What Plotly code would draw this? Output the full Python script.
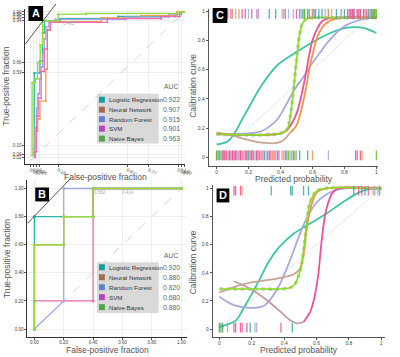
import plotly.graph_objects as go

W, H = 400, 357
def px(x): return x / W
def py(y): return 1 - y / H

models = ["Logistic Regression", "Neural Network", "Random Forest", "SVM", "Naive Bayes"]
auc_a = ["0.922", "0.907", "0.915", "0.901", "0.963"]
auc_b = ["0.920", "0.880", "0.820", "0.680", "0.880"]
legend_colors = ["#1a9c9c", "#a66a4d", "#5f7fd8", "#bf3fbf", "#4ea64e"]
line_colors = ["#27b9a8", "#f39c4a", "#a3a6e6", "#f06bb0", "#8fdc3c"]

# ---- Panel A: ROC (test set) ----
a_lr_x = [0.025,0.025,0.062,0.062,0.079,0.079,0.09,0.09,0.19,0.19,0.57,0.57,0.94,0.94,0.98,0.98,1.0]
a_lr_y = [0.05,0.59,0.59,0.67,0.67,0.86,0.86,0.94,0.94,0.955,0.955,0.97,0.97,0.985,0.985,1.0,1.0]
a_nn_x = [0.03,0.03,0.047,0.047,0.062,0.062,0.10,0.10,0.11,0.11,0.13,0.13,0.46,0.46,0.72,0.72,0.95,0.95,1.0]
a_nn_y = [0.04,0.20,0.20,0.28,0.28,0.40,0.40,0.615,0.615,0.88,0.88,0.935,0.935,0.96,0.96,0.975,0.975,1.0,1.0]
a_rf_x = [0.025,0.025,0.03,0.03,0.04,0.04,0.05,0.05,0.06,0.06,0.07,0.07,0.08,0.08,0.09,0.09,0.10,0.10,0.12,0.12,0.16,0.16,0.62,0.62,0.90,0.90,0.97,0.97,1.0]
a_rf_y = [0.03,0.08,0.08,0.22,0.22,0.35,0.35,0.45,0.45,0.55,0.55,0.63,0.63,0.72,0.72,0.82,0.82,0.90,0.90,0.93,0.93,0.95,0.95,0.965,0.965,0.985,0.985,1.0,1.0]
a_svm_x = [0.03,0.03,0.04,0.04,0.05,0.05,0.07,0.07,0.09,0.09,0.11,0.11,0.13,0.13,0.50,0.50,0.85,0.85,0.97,0.97,1.0]
a_svm_y = [0.02,0.06,0.06,0.30,0.30,0.42,0.42,0.60,0.60,0.75,0.75,0.88,0.88,0.93,0.93,0.955,0.955,0.97,0.97,1.0,1.0]
a_nb_x = [0.011,0.011,0.032,0.032,0.047,0.047,0.064,0.064,0.079,0.079,0.18,0.18,0.36,0.36,0.97,0.97,1.0]
a_nb_y = [0.034,0.525,0.525,0.55,0.55,0.66,0.66,0.78,0.78,0.94,0.94,0.985,0.985,0.99,0.99,1.0,1.0]
a_xticks = [0.0, 0.02, 0.04, 0.06, 0.18, 0.63, 0.77, 0.96, 0.98, 1.0]
a_yticks = [0.02, 0.04, 0.10, 0.59, 0.66, 0.94, 0.96, 0.98, 1.0]

# ---- Panel B: ROC (external set) ----
b_lr_x = [0, 0, 0.4, 0.4, 1.0]
b_lr_y = [0, 0.8, 0.8, 1.0, 1.0]
b_nn_x = [0, 0, 0.2, 0.2, 0.4, 0.4, 1.0]
b_nn_y = [0, 0.6, 0.6, 0.8, 0.8, 1.0, 1.0]
b_rf_x = [0, 0.2, 0.2, 1.0]
b_rf_y = [0, 0.2, 1.0, 1.0]
b_svm_x = [0, 0, 0.4, 0.4, 1.0]
b_svm_y = [0, 0.2, 0.2, 1.0, 1.0]
b_nb_x = [0, 0, 0.2, 0.2, 0.4, 0.4, 1.0]
b_nb_y = [0, 0.6, 0.6, 0.8, 0.8, 1.0, 1.0]
b_ticks = [0, 0.2, 0.4, 0.6, 0.8, 1.0]

# ---- Panel C: calibration (test set) ----
c_lr_x = [0,0.075,0.18,0.28,0.38,0.485,0.59,0.69,0.79,0.85,0.92,1.0]
c_lr_y = [0.09,0.115,0.30,0.49,0.63,0.71,0.78,0.84,0.88,0.89,0.885,0.85]
c_nn_lo_x = [0,0.1,0.2,0.3,0.38,0.42,0.46]
c_nn_lo_y = [0.17,0.15,0.12,0.10,0.10,0.12,0.17]
c_nn_hi_x = [0.46,0.5,0.55,0.58,0.6,0.63,0.67,0.72,0.8,1.0]
c_nn_hi_y = [0.17,0.22,0.42,0.60,0.70,0.82,0.90,0.94,0.955,0.955]
c_rf_x = [0,0.1,0.2,0.28,0.34,0.38,0.43,0.485,0.55,0.59,0.65,0.69,0.79,0.9,1.0]
c_rf_y = [0.16,0.16,0.165,0.18,0.22,0.26,0.35,0.46,0.56,0.63,0.72,0.78,0.89,0.94,0.955]
c_svm_x = [0,0.2,0.4,0.45,0.5,0.53,0.56,0.58,0.6,0.63,0.66,0.7,0.75,1.0]
c_svm_y = [0.16,0.155,0.165,0.2,0.3,0.42,0.58,0.7,0.8,0.88,0.93,0.95,0.955,0.955]
c_nb_x = [0,0.2,0.4,0.44,0.46,0.48,0.5,0.52,0.54,0.57,0.62,0.7,1.0]
c_nb_y = [0.16,0.155,0.165,0.19,0.27,0.45,0.66,0.84,0.92,0.95,0.955,0.955,0.955]
c_top_lr = [0.33,0.37,0.52,0.54,0.55,0.57,0.58,0.60,0.61,0.62,0.64,0.66,0.70,0.75,0.80,0.86,0.90,0.95,0.98]
c_top_nn = [0.10,0.14,0.42,0.60,0.70,0.78,0.85,0.90,0.93,0.96,0.99]
c_top_rf = [0.12,0.20,0.25,0.41,0.45,0.48,0.53,0.61,0.68,0.72,0.78,0.84,0.88,0.92,0.96,0.99]
c_top_svm = [0.07,0.09,0.16,0.18,0.22,0.26,0.43,0.50,0.82,0.83,0.84,0.85,0.86,0.88,0.89,0.90,0.92,0.94,0.97]
c_top_nb = [0.55,0.98,0.99,1.0]
c_bot_lr = [0.01,0.04,0.08,0.12,0.15,0.20,0.25,0.30,0.33,0.38,0.44,0.48,0.52,0.57]
c_bot_nn = [0.02,0.06,0.10,0.17,0.22,0.28,0.35,0.41,0.47,0.60,0.91]
c_bot_rf = [0.03,0.07,0.13,0.19,0.24,0.31,0.37,0.42,0.46,0.50,0.70]
c_bot_svm = [0.0,0.04,0.05,0.06,0.08,0.09,0.10,0.11,0.12,0.14,0.15,0.16,0.18,0.19,0.21,0.22,0.23,0.25,0.26,0.27,0.29,0.32,0.34,0.36,0.39,0.43,0.87,0.88,0.90]
c_bot_nb = [0.0,0.02,0.45,0.49,1.0]

# ---- Panel D: calibration (external set) ----
d_lr_x = [0,0.1,0.15,0.2,0.26,0.3,0.36,0.42,0.46,0.56,0.66,0.76,0.86,0.92,1.0]
d_lr_y = [0.016,0.06,0.15,0.25,0.38,0.47,0.57,0.64,0.68,0.75,0.82,0.9,0.97,0.995,1.0]
d_nn_lo_x = [0,0.15,0.36,0.46,0.5]
d_nn_lo_y = [0.26,0.32,0.36,0.39,0.43]
d_nn_hi_x = [0.5,0.52,0.55,0.6,0.66,1.0]
d_nn_hi_y = [0.43,0.53,0.79,0.97,1.0,1.0]
d_rf_x = [0,0.09,0.19,0.28,0.36,0.44,0.52,0.6,0.7,0.78,1.0]
d_rf_y = [0.23,0.17,0.15,0.17,0.29,0.5,0.74,0.9,0.98,1.0,1.0]
d_svm_lo_x = [0.09,0.2,0.3,0.38,0.44,0.48,0.52]
d_svm_lo_y = [0.34,0.28,0.2,0.12,0.06,0.04,0.05]
d_svm_hi_x = [0.52,0.56,0.58,0.61,0.63,0.66,0.7,0.74,1.0]
d_svm_hi_y = [0.05,0.12,0.19,0.38,0.61,0.85,0.97,1.0,1.0]
d_nb_x = [0,0.2,0.42,0.46,0.5,0.52,0.54,0.56,0.6,0.65,1.0]
d_nb_y = [0.285,0.285,0.29,0.31,0.42,0.56,0.76,0.9,0.98,1.0,1.0]
d_top_lr = [0.32,0.44,0.45,0.52,0.55,0.83,0.90]
d_top_nn = [0.14,0.95]
d_top_rf = [0.96,0.98]
d_top_svm = [0.09,0.10,0.13,0.86,0.88,0.92]
d_top_nb = [0.99]
d_bot_lr = [0.0,0.02,0.19,0.45]
d_bot_nn = [0.05]
d_bot_rf = [0.22,0.23]
d_bot_svm = [0.09,0.10,0.13,0.14,0.17,0.38]
d_bot_nb = [0.0,0.01]
cd_ticks = [0, 0.2, 0.4, 0.6, 0.8, 1.0]
cd_ticktext = ["0", "0.2", "0.4", "0.6", "0.8", "1"]

cal_colors = {"lr": "#3cc6a0", "nn_lo": "#c9a493", "nn_hi": "#f0954a", "rf": "#a8a8e0",
              "svm_lo": "#c49a9f", "svm_hi": "#f0509a", "nb": "#88dd22", "band": "#c8d0b4"}
rug_colors = ["#3aa8a0", "#f0954a", "#a8a8e0", "#f0509a", "#66bb22"]

FONT = "Liberation Sans, Arial, sans-serif"
fig = go.Figure()

def add(x, y, xa, ya, color, width=1.3, mode="lines", shape="linear", msize=2, dash=None, opacity=1):
    fig.add_trace(go.Scatter(x=x, y=y, xaxis=xa, yaxis=ya, mode=mode,
                             line=dict(color=color, width=width, shape=shape, smoothing=1.0, dash=dash),
                             marker=dict(size=msize, color=color), opacity=opacity,
                             hoverinfo="skip", showlegend=False))

def rug(vals, yv, xa, ya, color):
    fig.add_trace(go.Scatter(x=vals, y=[yv]*len(vals), xaxis=xa, yaxis=ya, mode="markers",
                             marker=dict(symbol="line-ns", size=7, line=dict(color=color, width=1.3)),
                             opacity=0.85, hoverinfo="skip", showlegend=False))

# Panel A
add([0, 1], [0, 1], "x", "y", "#c8c8c8", 0.8, dash="dash")
for (xx, yy), c in zip([(a_lr_x, a_lr_y), (a_nn_x, a_nn_y), (a_rf_x, a_rf_y), (a_svm_x, a_svm_y), (a_nb_x, a_nb_y)], line_colors):
    add(xx, yy, "x", "y", c, 1.3, mode="lines+markers", msize=2)

# Panel B
add([0, 1], [0, 1], "x3", "y3", "#c8c8c8", 0.8, dash="dash")
for (xx, yy), c in zip([(b_lr_x, b_lr_y), (b_nn_x, b_nn_y), (b_svm_x, b_svm_y), (b_rf_x, b_rf_y), (b_nb_x, b_nb_y)],
                       [line_colors[0], line_colors[1], line_colors[3], line_colors[2], line_colors[4]]):
    add(xx, yy, "x3", "y3", c, 1.3, mode="lines+markers", msize=3)

# Panel C
add([0, 1], [0, 1], "x2", "y2", "#e0e0e0", 0.8)
add(c_nb_x, c_nb_y, "x2", "y2", cal_colors["band"], 3.5, shape="spline", dash="dot")
add(c_lr_x, c_lr_y, "x2", "y2", cal_colors["lr"], 1.8, shape="spline")
add(c_rf_x, c_rf_y, "x2", "y2", cal_colors["rf"], 1.8, shape="spline")
add(c_nn_lo_x, c_nn_lo_y, "x2", "y2", cal_colors["nn_lo"], 1.8, shape="spline")
add(c_nn_hi_x, c_nn_hi_y, "x2", "y2", cal_colors["nn_hi"], 1.8, shape="spline")
add(c_svm_x, c_svm_y, "x2", "y2", cal_colors["svm_hi"], 1.8, shape="spline")
add(c_nb_x, c_nb_y, "x2", "y2", cal_colors["nb"], 1.6, shape="spline")
for vals, c in zip([c_top_lr, c_top_nn, c_top_rf, c_top_svm, c_top_nb], rug_colors):
    rug(vals, 0.98, "x2", "y2", c)
for vals, c in zip([c_bot_lr, c_bot_nn, c_bot_rf, c_bot_svm, c_bot_nb], rug_colors):
    rug(vals, 0.015, "x2", "y2", c)

# Panel D
add([0, 1], [0, 1], "x4", "y4", "#e0e0e0", 0.8)
add(d_nb_x, d_nb_y, "x4", "y4", cal_colors["band"], 3.5, shape="spline", dash="dot")
add(d_lr_x, d_lr_y, "x4", "y4", cal_colors["lr"], 1.8, shape="spline")
add(d_rf_x, d_rf_y, "x4", "y4", cal_colors["rf"], 1.8, shape="spline")
add(d_nn_lo_x, d_nn_lo_y, "x4", "y4", cal_colors["nn_lo"], 1.8, shape="spline")
add(d_nn_hi_x, d_nn_hi_y, "x4", "y4", cal_colors["nn_hi"], 1.8, shape="spline")
add(d_svm_lo_x, d_svm_lo_y, "x4", "y4", cal_colors["svm_lo"], 1.8, shape="spline")
add(d_svm_hi_x, d_svm_hi_y, "x4", "y4", cal_colors["svm_hi"], 1.8, shape="spline")
add(d_nb_x, d_nb_y, "x4", "y4", cal_colors["nb"], 1.6, shape="spline")
for vals, c in zip([d_top_lr, d_top_nn, d_top_rf, d_top_svm, d_top_nb], rug_colors):
    rug(vals, 0.985, "x4", "y4", c)
for vals, c in zip([d_bot_lr, d_bot_nn, d_bot_rf, d_bot_svm, d_bot_nb], rug_colors):
    rug(vals, 0.01, "x4", "y4", c)

def xdom(l, r): return [px(l), px(r)]
def ydom(t, b): return [py(b), py(t)]

roc_common = dict(showline=True, linecolor="#333", linewidth=1, ticks="outside", ticklen=2,
                  tickcolor="#555", tickfont=dict(size=4.5, color="#444", family=FONT),
                  showgrid=True, gridcolor="#e8e8e8", gridwidth=0.7, zeroline=False, fixedrange=True)
cal_common = dict(showline=True, linecolor="#555", linewidth=1, ticks="outside", ticklen=2,
                  tickcolor="#555", tickfont=dict(size=5, color="#444", family=FONT),
                  showgrid=False, zeroline=False, fixedrange=True,
                  tickvals=cd_ticks, ticktext=cd_ticktext)

fig.update_layout(
    width=W, height=H, margin=dict(l=0, r=0, t=0, b=0),
    paper_bgcolor="white", plot_bgcolor="white", showlegend=False,
    font=dict(family=FONT),
    xaxis=dict(domain=xdom(26, 189), range=[-0.032, 1.006], anchor="y", ticklabelstandoff=-1,
               tickvals=a_xticks, ticktext=["%.2f" % v for v in a_xticks], **roc_common),
    yaxis=dict(domain=ydom(8, 163), range=[-0.02, 1.02], anchor="x",
               tickvals=a_yticks, ticktext=["%.2f" % v for v in a_yticks], **roc_common),
    xaxis3=dict(domain=xdom(28, 191), range=[-0.047, 1.04], anchor="y3", ticklabelstandoff=-1,
                tickvals=b_ticks, ticktext=["%.2f" % v for v in b_ticks], **roc_common),
    yaxis3=dict(domain=ydom(180, 337), range=[-0.057, 1.057], anchor="x3",
                tickvals=b_ticks, ticktext=["%.2f" % v for v in b_ticks], **roc_common),
    xaxis2=dict(domain=xdom(213, 386), range=[-0.049, 1.012], anchor="y2", ticklabelstandoff=-1, **cal_common),
    yaxis2=dict(domain=ydom(8, 165), range=[-0.054, 1.014], anchor="x2", **cal_common),
    xaxis4=dict(domain=xdom(217, 393), range=[-0.042, 1.024], anchor="y4", ticklabelstandoff=-1, **cal_common),
    yaxis4=dict(domain=ydom(185, 337), range=[-0.057, 1.021], anchor="x4", **cal_common),
)

shapes = []
ann = []
# tangent lines
shapes.append(dict(type="line", xref="paper", yref="paper", x0=px(26), y0=py(43), x1=px(57), y1=py(3),
                   line=dict(color="#444", width=0.9)))
shapes.append(dict(type="line", xref="paper", yref="paper", x0=px(28), y0=py(223), x1=px(72), y1=py(178),
                   line=dict(color="#444", width=0.9)))

# Legend boxes
def legend(top, bottom, rows, header_y, values):
    shapes.append(dict(type="rect", xref="paper", yref="paper", x0=px(99), x1=px(162), y0=py(bottom), y1=py(top),
                       fillcolor="#d9d9d9", line=dict(width=0)))
    for r, name, col, val in zip(rows, models, legend_colors, values):
        shapes.append(dict(type="rect", xref="paper", yref="paper", x0=px(101), x1=px(107),
                           y0=py(r + 3), y1=py(r - 3), fillcolor=col, line=dict(width=0)))
        ann.append(dict(x=px(109.5), y=py(r), xref="paper", yref="paper", text=name, showarrow=False,
                        xanchor="left", yanchor="middle", font=dict(size=6.2, color="#333", family=FONT)))
        ann.append(dict(x=px(164), y=py(r), xref="paper", yref="paper", text=val, showarrow=False,
                        xanchor="left", yanchor="middle", font=dict(size=6.8, color="#666", family=FONT)))
    ann.append(dict(x=px(165), y=py(header_y), xref="paper", yref="paper", text="AUC", showarrow=False,
                    xanchor="left", yanchor="middle", font=dict(size=6.8, color="#666", family=FONT)))

legend(93, 143, [99, 109, 118.5, 128, 138], 86, auc_a)
legend(262, 313, [267, 277, 287, 297, 307], 255, auc_b)

# Panel letters
for (l, t, r, b), letter in zip([(29, 5, 44, 20), (217, 7, 232, 22), (36, 187, 50, 201), (221, 188, 234, 202)],
                                ["A", "C", "B", "D"]):
    shapes.append(dict(type="rect", xref="paper", yref="paper", x0=px(l), x1=px(r), y0=py(b), y1=py(t),
                       fillcolor="black", line=dict(width=0)))
    ann.append(dict(x=px((l + r) / 2), y=py((t + b) / 2), xref="paper", yref="paper", text="<b>%s</b>" % letter,
                    showarrow=False, xanchor="center", yanchor="middle",
                    font=dict(size=11, color="white", family=FONT)))

# Axis titles
def title(x, y, text, angle=0):
    ann.append(dict(x=px(x), y=py(y), xref="paper", yref="paper", text=text, showarrow=False,
                    xanchor="center", yanchor="middle", textangle=angle,
                    font=dict(size=8.5, color="#555", family=FONT)))

title(6, 85, "True-positive fraction", -90)
title(108, 176, "False-positive fraction")
title(7, 258, "True-positive fraction", -90)
title(110, 350, "False-positive fraction")
title(197, 85, "Calibration curve", -90)
title(197, 262, "Calibration curve", -90)
title(300, 178, "Predicted probability")
title(305, 350, "Predicted probability")

# small threshold labels
for x, y, t in [(70, 23, "0.495"), (102, 192, "0.582"), (131, 192, "0.414")]:
    ann.append(dict(x=px(x), y=py(y), xref="paper", yref="paper", text=t, showarrow=False,
                    xanchor="center", yanchor="middle", font=dict(size=4.5, color="#aaa", family=FONT)))

fig.update_layout(shapes=shapes, annotations=ann)
fig.write_html("out.html", config={"displayModeBar": False, "staticPlot": True},
               post_script="document.body.style.margin='0';document.body.style.overflow='hidden';")
